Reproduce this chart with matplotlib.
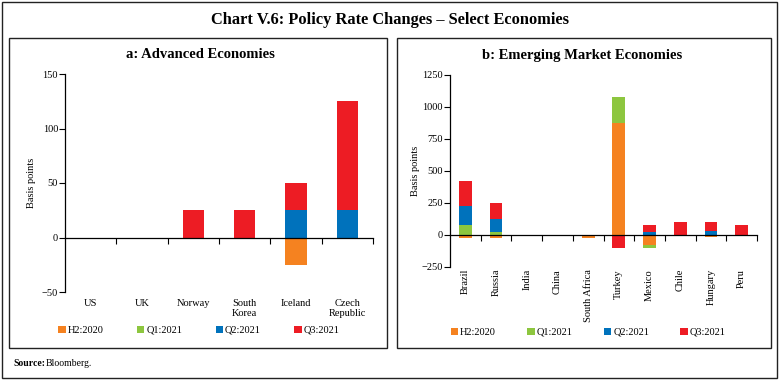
import matplotlib
matplotlib.use("Agg")
import matplotlib.pyplot as plt
import numpy as np
from matplotlib.patches import Rectangle, Patch

plt.rcParams['font.family'] = ['Liberation Serif', 'DejaVu Serif']

series = ["H2:2020", "Q1:2021", "Q2:2021", "Q3:2021"]
colors = ["#F58220", "#8DC63F", "#0072BC", "#ED1C24"]

adv_countries = ["US", "UK", "Norway", "South\nKorea", "Iceland", "Czech\nRepublic"]
adv_h2_2020 = [0, 0, 0, 0, -25, 0]
adv_q1_2021 = [0, 0, 0, 0, 0, 0]
adv_q2_2021 = [0, 0, 0, 0, 25, 25]
adv_q3_2021 = [0, 0, 25, 25, 25, 100]

eme_countries = ["Brazil", "Russia", "India", "China", "South Africa", "Turkey",
                 "Mexico", "Chile", "Hungary", "Peru"]
eme_h2_2020 = [-25, -25, 0, 0, -25, 875, -75, 0, -15, 0]
eme_q1_2021 = [75, 25, 0, 0, 0, 200, -25, 0, 0, 0]
eme_q2_2021 = [150, 100, 0, 0, 0, 0, 25, 0, 30, 0]
eme_q3_2021 = [200, 125, 0, 0, 0, -100, 50, 100, 75, 75]

W, H = 779, 381
fig = plt.figure(figsize=(W / 100, H / 100), dpi=100)


def rect(l, t, r, b):
    return [l / W, 1 - b / H, (r - l) / W, (b - t) / H]


def box(l, t, r, b, lw=1.0):
    fig.add_artist(Rectangle((l / W, 1 - b / H), (r - l) / W, (b - t) / H,
                             transform=fig.transFigure, fill=False,
                             edgecolor="#222222", linewidth=lw))


# outer and panel boxes
box(2, 2, 777, 378)
box(9, 38, 387, 348)
box(397, 38, 771, 348)

fig.text(390 / W, 1 - 20 / H, "Chart V.6: Policy Rate Changes \u2013 Select Economies",
         ha="center", va="center", fontsize=11.8, fontweight="bold")
fig.text(13 / W, 1 - 363 / H, "Source:", ha="left", va="center", fontsize=7, fontweight="bold")
fig.text(46 / W, 1 - 363 / H, "Bloomberg.", ha="left", va="center", fontsize=7)


def stacked(ax, data):
    n = len(data[0])
    x = np.arange(n)
    pos = np.zeros(n)
    neg = np.zeros(n)
    for vals, c in zip(data, colors):
        v = np.array(vals, dtype=float)
        bottom = np.where(v >= 0, pos, neg)
        ax.bar(x, v, bottom=bottom, width=0.42, color=c, edgecolor="none", zorder=2)
        pos = pos + np.where(v >= 0, v, 0)
        neg = neg + np.where(v < 0, v, 0)
    return x


def style(ax, n, labelpad):
    ax.set_xlim(-0.5, n - 0.5)
    ax.spines["top"].set_visible(False)
    ax.spines["right"].set_visible(False)
    ax.spines["bottom"].set_position(("data", 0))
    ax.spines["bottom"].set_linewidth(0.9)
    ax.spines["left"].set_linewidth(0.9)
    ax.set_xticks(np.arange(n) + 0.5)
    ax.set_xticklabels([])
    ax.tick_params(axis="x", direction="out", length=4, width=0.8)
    ax.tick_params(axis="y", direction="out", length=4, width=0.8, labelsize=7.5, pad=1)
    ax.set_ylabel("Basis points", fontsize=7.5, labelpad=labelpad)


handles = [Patch(facecolor=c, edgecolor="none") for c in colors]

# Panel a
ax1 = fig.add_axes(rect(65, 74, 373, 292))
x1 = stacked(ax1, [adv_h2_2020, adv_q1_2021, adv_q2_2021, adv_q3_2021])
ax1.set_ylim(-50, 150)
ax1.set_yticks([-50, 0, 50, 100, 150])
style(ax1, len(adv_countries), 4)
for xi, lab in zip(x1, adv_countries):
    ax1.text(xi, -0.03, lab, transform=ax1.get_xaxis_transform(), ha="center", va="top",
             fontsize=7.5, linespacing=1.2)
fig.text(200 / W, 1 - 55 / H, "a: Advanced Economies", ha="center", va="center",
         fontsize=10.5, fontweight="bold")
ax1.legend(handles, series, loc="center", bbox_to_anchor=(0.435, -0.175), ncol=4, frameon=False,
           fontsize=7.5, handlelength=0.7, handleheight=0.7, handletextpad=0.2,
           columnspacing=3.2)

# Panel b
ax2 = fig.add_axes(rect(450, 75, 757, 267))
x2 = stacked(ax2, [eme_h2_2020, eme_q1_2021, eme_q2_2021, eme_q3_2021])
ax2.set_ylim(-250, 1250)
ax2.set_yticks([-250, 0, 250, 500, 750, 1000, 1250])
style(ax2, len(eme_countries), 1)
for xi, lab in zip(x2, eme_countries):
    ax2.text(xi, -0.01, lab, transform=ax2.get_xaxis_transform(), ha="center", va="top",
             fontsize=7.5, rotation=90)
fig.text(582 / W, 1 - 55 / H, "b: Emerging Market Economies", ha="center", va="center",
         fontsize=10.5, fontweight="bold")
ax2.legend(handles, series, loc="center", bbox_to_anchor=(0.45, -0.34), ncol=4, frameon=False,
           fontsize=7.5, handlelength=0.7, handleheight=0.7, handletextpad=0.2,
           columnspacing=3.0)

fig.savefig("out.png", dpi=100)
